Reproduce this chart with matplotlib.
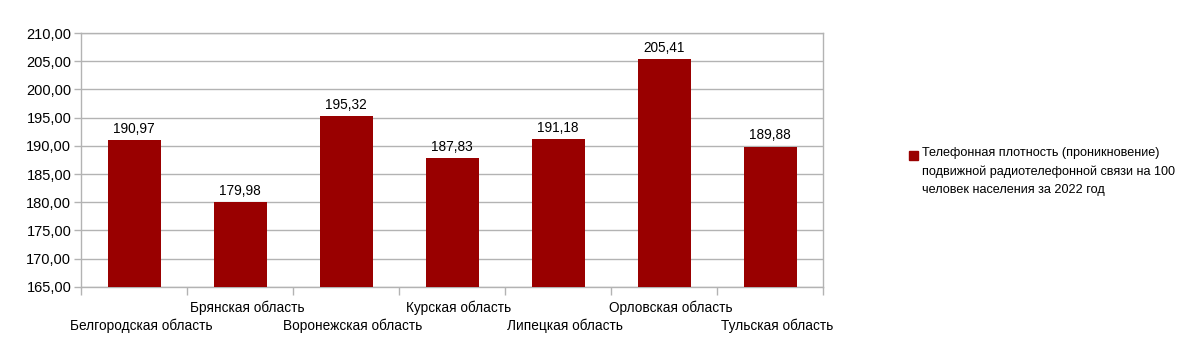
import matplotlib.pyplot as plt
import numpy as np

regions = ['Белгородская область', 'Брянская область', 'Воронежская область',
           'Курская область', 'Липецкая область', 'Орловская область',
           'Тульская область']
values = [190.97, 179.98, 195.32, 187.83, 191.18, 205.41, 189.88]
series_name = ('Телефонная плотность (проникновение)\n'
               'подвижной радиотелефонной связи на 100\n'
               'человек населения за 2022 год')

plt.rcParams['font.family'] = ['Liberation Sans', 'DejaVu Sans']

fig = plt.figure(figsize=(12, 3.52), dpi=100)
ax = fig.add_axes([0.0675, 0.185, 0.6185, 0.721])

bar_color = '#990000'
grid_color = '#b3b3b3'
x = np.arange(len(regions))
ax.bar(x, values, width=0.5, color=bar_color, zorder=3, bottom=0)

ax.set_ylim(165, 210)
ax.set_xlim(-0.5, len(regions) - 0.5)
ax.set_yticks(np.arange(165, 211, 5))
ax.set_yticklabels([f'{v:.2f}'.replace('.', ',') for v in np.arange(165, 211, 5)],
                   fontsize=10.5)
ax.yaxis.grid(True, color=grid_color, linewidth=1, zorder=0)

# category boundaries as ticks, labels placed manually (staggered)
ax.set_xticks(np.arange(-0.5, len(regions), 1))
ax.set_xticklabels([])
ax.tick_params(axis='x', length=6, color=grid_color, width=1)
ax.tick_params(axis='y', length=5, color=grid_color, width=1, pad=2)

for i, name in enumerate(regions):
    off = -23 if i % 2 == 0 else -10
    ax.annotate(name, (i, 165), xytext=(5, off), textcoords='offset points',
                ha='center', va='top', fontsize=9.8, annotation_clip=False)
    ax.annotate(f'{values[i]:.2f}'.replace('.', ','), (i, values[i]),
                xytext=(0, 3), textcoords='offset points',
                ha='center', va='bottom', fontsize=9.8)

for side in ['left', 'bottom', 'right', 'top']:
    ax.spines[side].set_color(grid_color)
    ax.spines[side].set_linewidth(1)

# legend
fig.patches.append(plt.Rectangle((909 / 1200, 1 - 160 / 352), 9 / 1200, 9 / 352,
                                 transform=fig.transFigure, color=bar_color))
fig.text(922 / 1200, 1 - 147 / 352, series_name, fontsize=9.1, va='top', ha='left',
         linespacing=1.65)

fig.savefig('out.png', dpi=100)
